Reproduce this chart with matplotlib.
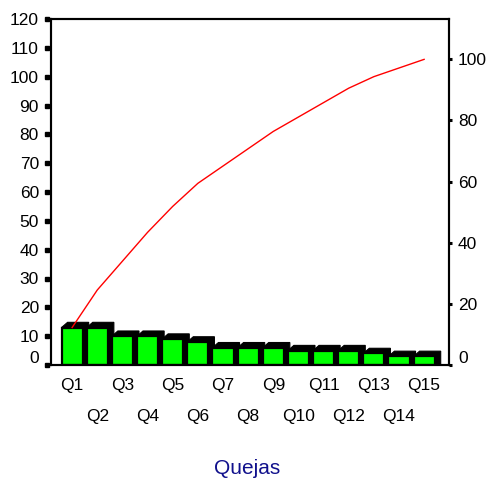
import matplotlib
matplotlib.use("Agg")
import matplotlib.pyplot as plt
import matplotlib.transforms as mtransforms
from matplotlib.patches import Polygon
import numpy as np

plt.rcParams['font.family'] = ['Liberation Sans', 'DejaVu Sans']

categories = ["Q1", "Q2", "Q3", "Q4", "Q5", "Q6", "Q7", "Q8", "Q9", "Q10",
              "Q11", "Q12", "Q13", "Q14", "Q15"]
counts = [13, 13, 10, 10, 9, 8, 6, 6, 6, 5, 5, 5, 4, 3, 3]
left_ticks = [0, 10, 20, 30, 40, 50, 60, 70, 80, 90, 100, 110, 120]
right_ticks = [0, 20, 40, 60, 80, 100]
xlabel = "Quejas"

total = sum(counts)
cum_pct = np.cumsum(counts) / total * 100.0

fig = plt.figure(figsize=(4.89, 4.80), dpi=100)
ax = fig.add_axes([51.5 / 489, 115 / 480, (449 - 51.5) / 489, (365 - 19) / 480])

x = np.arange(len(categories))
width = 0.84
dx, dy = 0.24, 1.8
for xi, v in zip(x, counts):
    L, R = xi - width / 2, xi + width / 2
    shadow = Polygon([(L, 0), (L, v), (L + dx, v + dy), (R + dx, v + dy), (R + dx, 0)],
                     closed=True, facecolor="black", edgecolor="black", lw=0.8, zorder=1)
    ax.add_patch(shadow)
ax.bar(x, counts, width=width, color="#00ff00", edgecolor="black", linewidth=1.6, zorder=2)

ax.set_xlim(-0.82, 14.99)
ax.set_ylim(0, 120)
ax.set_yticks(left_ticks)
ax.set_yticklabels([str(t) for t in left_ticks])

odd_idx = x[::2]
even_idx = x[1::2]
ax.set_xticks(odd_idx)
ax.set_xticklabels([categories[i] for i in odd_idx])
ax.set_xticks(even_idx, minor=True)
ax.set_xticklabels([categories[i] for i in even_idx], minor=True)
ax.tick_params(axis='x', which='major', length=0, pad=9.5, labelsize=12.5)
ax.tick_params(axis='x', which='minor', length=0, pad=31.5, labelsize=12.5)
ax.tick_params(axis='y', which='major', direction='out', length=0, pad=9,
               labelsize=12.5)

# detached square tick marks on the left axis
tick_off = mtransforms.ScaledTranslation(-4 / 100, 0, fig.dpi_scale_trans)
tr = mtransforms.blended_transform_factory(ax.transAxes, ax.transData) + tick_off
ax.plot([0] * len(left_ticks), left_ticks, linestyle='none', marker='s', markersize=2.3,
        color='black', transform=tr, clip_on=False, zorder=6)

for s in ax.spines.values():
    s.set_linewidth(1.5)

ax2 = ax.twinx()
ax2.set_ylim(0, 120 / total * 100)
ax2.set_yticks(right_ticks)
ax2.set_yticklabels([str(t) for t in right_ticks])
ax2.tick_params(axis='y', direction='out', length=2.5, width=2.2, pad=4, labelsize=12.5)
ax2.plot(x, cum_pct, color="red", linewidth=1.0, zorder=5)
for s in ax2.spines.values():
    s.set_linewidth(1.5)

# SPSS-like placement of the zero labels
off = mtransforms.ScaledTranslation(0, 8 / 100, fig.dpi_scale_trans)
for lab in [ax.get_yticklabels()[0], ax2.get_yticklabels()[0]]:
    lab.set_transform(lab.get_transform() + off)

fig.text(247 / 489, 1 - 468 / 480, xlabel, ha='center', va='center', fontsize=15,
         color="#10108c")

fig.savefig("out.png", dpi=100)
